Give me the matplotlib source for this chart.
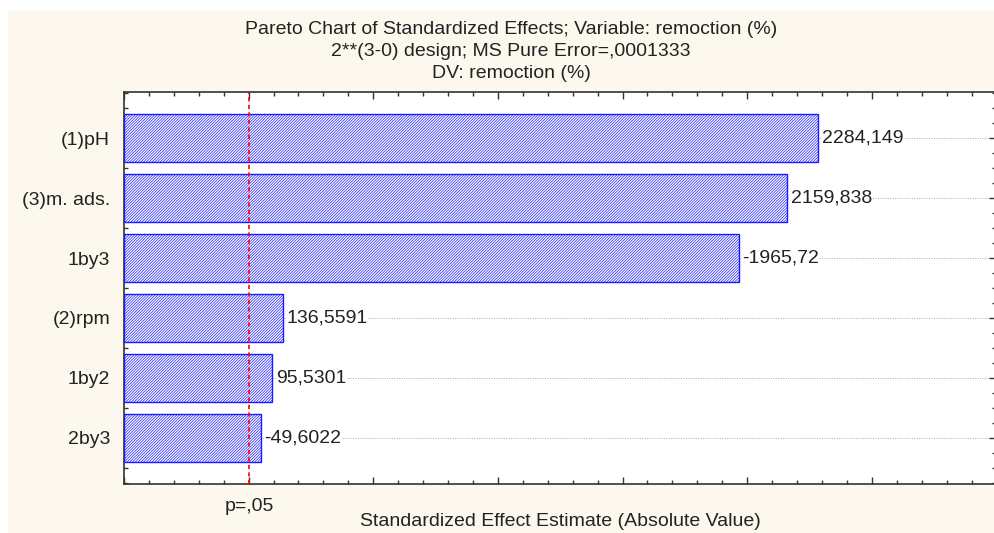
import numpy as np
import matplotlib
matplotlib.use("Agg")
import matplotlib.pyplot as plt
from matplotlib.patches import Rectangle
from matplotlib.ticker import MultipleLocator

# effects from the Statistica output
factors = ["(1)pH", "(3)m. ads.", "1by3", "(2)rpm", "1by2", "2by3"]
effects = [2284.149, 2159.838, -1965.72, 136.5591, 95.5301, -49.6022]
t_crit = 2.306  # p=,05 reference line
x_range = (-500, 3000)

title_lines = [
    "Pareto Chart of Standardized Effects; Variable: remoction (%)",
    "2**(3-0) design; MS Pure Error=,0001333",
    "DV: remoction (%)",
]
xlabel = "Standardized Effect Estimate (Absolute Value)"

plt.rcParams["font.family"] = ["Liberation Sans", "DejaVu Sans"]
plt.rcParams["hatch.linewidth"] = 0.5
plt.rcParams["hatch.color"] = "#3a3aff"
FS = 14
TXT = "#222222"
W, H = 995, 533
fig = plt.figure(figsize=(W / 100, H / 100), dpi=100, facecolor="white")

# cream panel behind everything (screenshot has a thin white margin)
cream = "#fdf8ee"
fig.patches.append(Rectangle((8 / W, 0), 1, 1 - 11 / H, transform=fig.transFigure,
                             facecolor=cream, edgecolor="none", zorder=-10))

ax = fig.add_axes([124 / W, 1 - 484 / H, (996.5 - 124) / W, (484 - 92) / H])
ax.set_facecolor("white")

ypos = np.arange(len(factors))
vals = np.abs(np.array(effects))
bars = ax.barh(ypos, vals - x_range[0], left=x_range[0], height=0.8,
               facecolor="white", edgecolor="#1a1aff", hatch="////////////",
               linewidth=1.0, zorder=3)

for y, v, e in zip(ypos, vals, effects):
    ax.text(v + 14, y, str(e).replace(".", ","), va="center", ha="left", fontsize=FS,
            color=TXT, zorder=4,
            bbox=dict(facecolor="white", edgecolor="none", pad=0.3))

# dotted grid at each factor
for y in ypos:
    ax.axhline(y, color="#aaaaaa", linestyle=(0, (1, 1.5)), linewidth=0.7, zorder=1)

ax.axvline(t_crit, color="red", linestyle=(0, (2.5, 2)), linewidth=1.2, zorder=5)

ax.set_xlim(*x_range)
ax.set_ylim(len(factors) - 1 + 0.767, -0.767)

ax.xaxis.set_major_locator(MultipleLocator(500))
ax.xaxis.set_minor_locator(MultipleLocator(100))
ax.set_xticklabels([])
ax.set_yticks(ypos)
ax.set_yticklabels(factors, fontsize=FS, color=TXT)
ax.yaxis.set_minor_locator(MultipleLocator(0.25))
ax.tick_params(which="both", direction="in", top=True, right=True, color="#333333")
ax.tick_params(which="major", length=5, width=1.0)
ax.tick_params(which="minor", length=3, width=1.0)
ax.tick_params(axis="y", which="major", pad=10)
ax.tick_params(axis="x", which="major", labelbottom=False)

for s in ax.spines.values():
    s.set_color("#333333")
    s.set_linewidth(1.2)

ax.text(t_crit, -0.035, "p=,05", transform=ax.get_xaxis_transform(), ha="center", va="top",
        fontsize=FS, color=TXT)
fig.text(560 / W, 1 - 522 / H, xlabel, ha="center", va="center", fontsize=FS, color=TXT)

for i, line in enumerate(title_lines):
    fig.text(511 / W, 1 - (30 + 21.5 * i) / H, line, ha="center", va="center",
             fontsize=FS, color=TXT)

fig.savefig("out.png", dpi=100, facecolor=fig.get_facecolor())
